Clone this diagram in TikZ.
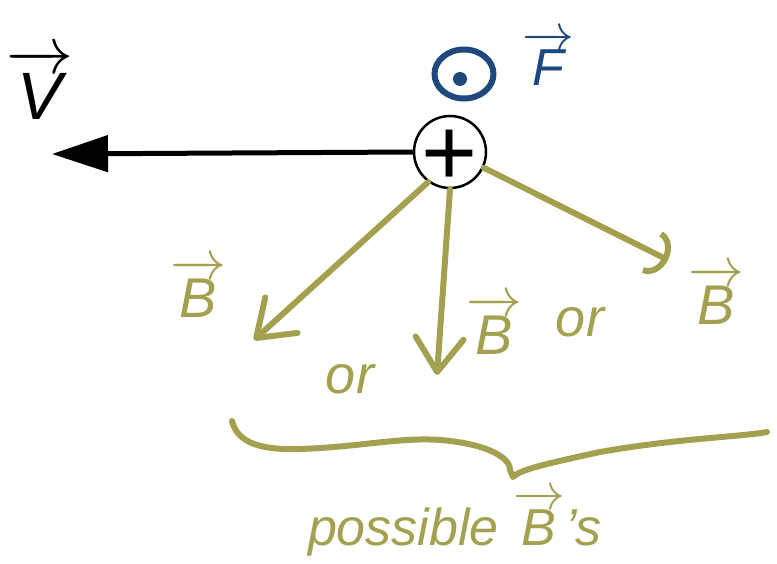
\documentclass[tikz,border=0pt]{standalone}
\usepackage{fix-cm}
\usepackage{amsmath}
\usepackage{fontspec}
\setmainfont{Liberation Sans}
\usepackage{tikz}
\usetikzlibrary{arrows.meta,calc}
\definecolor{handolive}{HTML}{A3A150}
\definecolor{handblue}{HTML}{1F497D}
\newcommand{\vecsym}[1]{\ensuremath{\overrightarrow{\text{#1}}}}

\begin{document}
\begin{tikzpicture}[x=1pt,y=-1pt,
  hand/.style={draw=handolive,line width=6pt,line cap=round,line join=round},
  barb/.style={-{Straight Barb[round,length=34pt,width=48pt]}},
  lbl/.style={text=handolive,inner sep=0pt,anchor=base,font=\fontsize{56}{56}\selectfont\itshape},
  orlbl/.style={lbl,font=\fontsize{54}{54}\selectfont\itshape},
  charge/.style={draw,circle,line width=2.5pt,minimum size=72pt,inner sep=0pt}
]
\useasboundingbox (0,0) rectangle (777,564);
\node[charge] (q) at (450,152) {};
\node[inner sep=0pt,font=\fontsize{96}{96}\selectfont] (qsign) at (450,158) {+};
\coordinate (vtip) at (52,154);
\draw[line width=5pt,-{Triangle[length=56pt,width=36pt]}] (q.west) -- (vtip);
\node[anchor=base,inner sep=0pt,font=\fontsize{67}{67}\selectfont\itshape] (vlab) at (40,120) {\vecsym{V}};
% force out of the page
\draw[handblue,line width=6pt] (464,74) ellipse [x radius=29.5,y radius=24.5];
\fill[handblue] (460,79) circle [radius=7];
\node[lbl,text=handblue,font=\fontsize{52}{52}\selectfont\itshape] (flab) at (548,86) {\vecsym{F}};
% possible directions of B
\coordinate (bl) at (254,340);
\coordinate (bm) at (437,375);
\coordinate (br) at (668,260);
\draw[hand,barb] (q.234) -- (bl);
\draw[hand,barb] (q.south) -- (bm);
\draw[hand,-{Arc Barb[length=18pt,width=46pt]}] (q.-25) -- (br);
\node[lbl] (bllab) at (198,318) {\vecsym{B}};
\node[lbl] (bmlab) at (494,355) {\vecsym{B}};
\node[lbl] (brlab) at (716,325) {\vecsym{B}};
\node[orlbl] (or1) at (350,393) {or};
\node[orlbl] (or2) at (580,337) {or};
\draw[hand] (232,421) .. controls (238,445) and (265,450) .. (300,449)
  .. controls (360,447) and (400,437) .. (440,440)
  .. controls (480,443) and (510,455) .. (510,470) -- (513,477)
  .. controls (520,470) and (540,465) .. (600,452)
  .. controls (680,438) and (740,437) .. (767,432);
\node[lbl,font=\fontsize{52}{52}\selectfont\itshape] (poss) at (455,545) {possible \vecsym{B}'s};
\end{tikzpicture}
\end{document}
